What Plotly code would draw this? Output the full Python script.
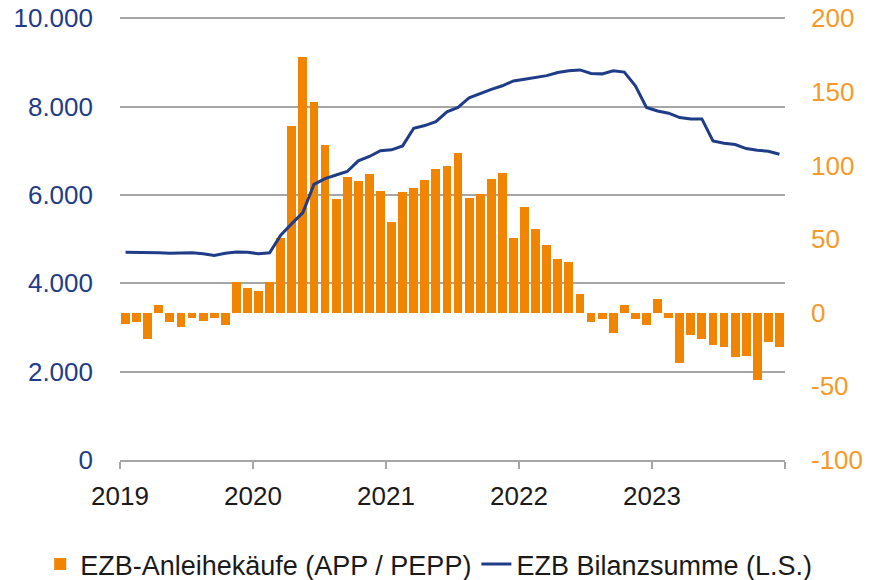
import plotly.graph_objects as go

# ── Colours ────────────────────────────────────────────────────────────────────
ORANGE = "#f18400"
ORANGE_TXT = "#f59a2a"
NAVY = "#1f3c88"
GRID = "#a6a6a6"
TEXT = "#1a1a1a"
FONT = "Liberation Sans, Arial, sans-serif"

# ── Data (monthly, Jan 2019 – Dec 2023) ───────────────────────────────────────
years = [2019, 2020, 2021, 2022, 2023]

# EZB-Anleihekäufe APP / PEPP, Mrd. Euro (right axis)
purchases = [
    -7.5, -6.3, -18, 5.4, -6.3, -9.7, -3.6, -5.7, -3.4, -8.6, 20.8, 17,
    14.7, 20.8, 50.7, 127, 174, 143, 114, 77, 92, 89.4, 94, 83,
    61.3, 82, 85, 90.3, 97.3, 99.5, 108.6, 77.8, 80.8, 91, 95.2, 50.7,
    71.5, 57, 45.7, 36.4, 34.2, 12.7, -6.3, -4.5, -13.8, 5.4, -4.5, -8.6,
    9.5, -3.6, -34, -15, -18, -22, -23.3, -30, -29.6, -45.5, -20, -23.3,
]

# EZB Bilanzsumme, Mrd. Euro (left axis)
balance = [
    4700, 4700, 4690, 4690, 4680, 4680, 4690, 4670, 4630, 4680, 4710, 4700,
    4670, 4690, 5090, 5350, 5600, 6240, 6370, 6450, 6530, 6770, 6870, 7000,
    7020, 7110, 7510, 7570, 7660, 7880, 7980, 8200, 8300, 8390, 8470, 8580,
    8620, 8660, 8700, 8770, 8810, 8830, 8750, 8740, 8810, 8780, 8470, 7980,
    7900, 7850, 7750, 7720, 7720, 7220, 7170, 7140, 7050, 7010, 6990, 6920,
]

right_ticks = [-100, -50, 0, 50, 100, 150, 200]

months = [years[0] + (i + 0.5) / 12 for i in range(len(purchases))]

fig = go.Figure()

fig.add_trace(
    go.Bar(
        x=months,
        y=purchases,
        width=0.8 / 12,
        marker=dict(color=ORANGE, line=dict(width=0)),
        name="EZB-Anleihekäufe (APP / PEPP)",
        yaxis="y",
    )
)

fig.add_trace(
    go.Scatter(
        x=months,
        y=balance,
        mode="lines",
        line=dict(color=NAVY, width=3),
        name="EZB Bilanzsumme (L.S.)",
        yaxis="y2",
    )
)

# the page body adds an 8px margin, so the figure is 8px smaller than the window;
# ranges are padded a little so the top gridline is not clipped away
fig.update_layout(
    width=869,
    height=572,
    paper_bgcolor="white",
    plot_bgcolor="white",
    separators=",.",
    font=dict(family=FONT, size=26, color=TEXT),
    margin=dict(l=112, r=92, t=8, b=120, autoexpand=False),
    bargap=0,
    xaxis=dict(
        range=[years[0], years[-1] + 1],
        tickvals=years + [years[-1] + 1],
        ticktext=[str(y) for y in years] + [""],
        ticks="outside",
        ticklen=7,
        tickwidth=1.5,
        tickcolor=GRID,
        showline=True,
        linecolor=GRID,
        linewidth=1.5,
        showgrid=False,
        zeroline=False,
        automargin=False,
        ticklabelstandoff=5,
        tickfont=dict(color=TEXT, size=26),
    ),
    # bars: right axis (primary, so the line overlay sits on top)
    yaxis=dict(
        side="right",
        range=[-100, 201.5],
        tickvals=right_ticks,
        ticktext=[str(v) for v in right_ticks],
        showgrid=False,
        zeroline=False,
        showline=False,
        ticks="",
        automargin=False,
        ticklabeloverflow="allow",
        ticklabelstandoff=25,
        tickfont=dict(color=ORANGE_TXT, size=26),
    ),
    # balance sheet: left axis, carries the gridlines
    yaxis2=dict(
        side="left",
        overlaying="y",
        range=[0, 10050],
        dtick=2000,
        tickformat=",d",
        showgrid=True,
        gridcolor=GRID,
        gridwidth=1.5,
        zeroline=False,
        showline=False,
        ticks="",
        automargin=False,
        ticklabeloverflow="allow",
        ticklabelstandoff=26,
        tickfont=dict(color=NAVY, size=26),
    ),
    showlegend=True,
    legend=dict(
        orientation="h",
        x=-0.12,
        xanchor="left",
        y=-0.18,
        yanchor="top",
        font=dict(size=27, color=TEXT),
        traceorder="normal",
        itemwidth=30,
        bgcolor="rgba(0,0,0,0)",
    ),
)

fig.write_html("out.html")
